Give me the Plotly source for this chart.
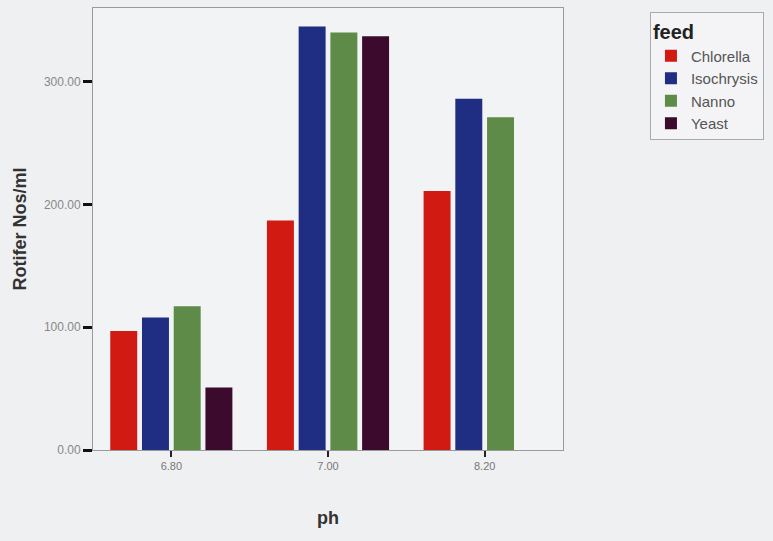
import plotly.graph_objects as go

ph = ["6.80", "7.00", "8.20"]
feeds = ["Chlorella", "Isochrysis", "Nanno", "Yeast"]
chlorella = [97, 187, 211]
isochrysis = [108, 345, 286]
nanno = [117, 340, 271]
yeast = [51, 337, None]
colors = ["#d01a12", "#1f2d82", "#5e8b47", "#3b0a2c"]

series = [chlorella, isochrysis, nanno, yeast]

fig = go.Figure()
for name, vals, c in zip(feeds, series, colors):
    fig.add_trace(go.Bar(x=ph, y=vals, name=name, marker=dict(color=c, line=dict(width=0))))

fig.update_layout(
    width=773, height=541,
    margin=dict(l=93, r=210, t=8, b=91),
    paper_bgcolor="#eff0f2",
    plot_bgcolor="#f2f3f5",
    barmode="group",
    bargap=0.19,
    bargroupgap=0.15,
    font=dict(family="Liberation Sans, Arial, sans-serif", color="#333"),
    legend=dict(
        title=dict(text="<b>feed</b>", font=dict(size=20, color="#222")),
        x=1.185, y=0.99, xanchor="left", yanchor="top",
        bgcolor="#f4f4f6", bordercolor="#aaaaaa", borderwidth=1,
        font=dict(size=15, color="#555"),
        tracegroupgap=2,
    ),
    showlegend=True,
)
fig.update_xaxes(
    type="category", range=[-0.5, 2.5],
    showline=True, linecolor="#9a9a9a", linewidth=1, mirror=True,
    ticks="outside", ticklen=6, tickwidth=2, tickcolor="#222",
    tickfont=dict(size=11, color="#777"),
    title=dict(text="<b>ph</b>", font=dict(size=18, color="#333"), standoff=40),
    showgrid=False,
)
fig.update_yaxes(
    range=[0, 360], tickvals=[0, 100, 200, 300], tickformat=".2f",
    showline=True, linecolor="#9a9a9a", linewidth=1, mirror=True,
    ticks="outside", ticklen=9, tickwidth=3, tickcolor="#111",
    tickfont=dict(size=12, color="#888"),
    title=dict(text="<b>Rotifer Nos/ml</b>", font=dict(size=18, color="#333"), standoff=12),
    showgrid=False, zeroline=False,
)

fig.write_html(
    "out.html",
    config={"displayModeBar": False},
    post_script="document.body.style.margin='0';document.body.style.overflow='hidden';",
)
